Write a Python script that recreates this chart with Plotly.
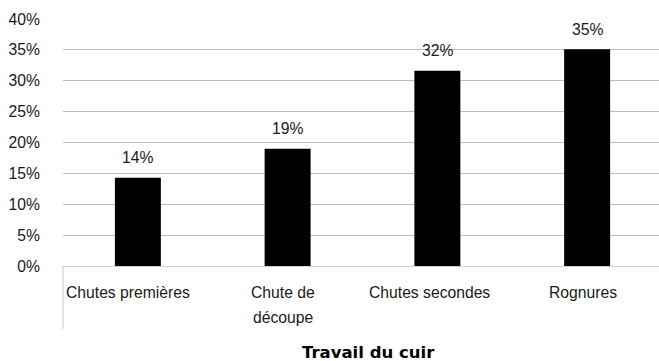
import plotly.graph_objects as go

# Share of leather-working waste by type
categories = ["Chutes premières", "Chute de découpe", "Chutes secondes", "Rognures"]
label_lines = [["Chutes premières"], ["Chute de", "découpe"], ["Chutes secondes"], ["Rognures"]]
shares = [0.143, 0.19, 0.316, 0.351]
y_ticks = [0, 0.05, 0.10, 0.15, 0.20, 0.25, 0.30, 0.35, 0.40]
axis_title = "Travail du cuir"

FONT = "Liberation Sans, Arial, sans-serif"
SIZE = 15.7
# horizontal nudge (px) of each category label relative to its bar
label_nudge = [-10, -5, -8, -4]

fig = go.Figure(
    go.Bar(
        x=categories,
        y=shares,
        width=0.307,
        marker=dict(color="#000000", line=dict(width=0)),
        hoverinfo="skip",
    )
)

annotations = []
# value labels above the bars
for cat, v in zip(categories, shares):
    annotations.append(dict(
        x=cat, y=v, xref="x", yref="y",
        text=f"{round(v * 100)}%",
        showarrow=False, yanchor="middle", yshift=20,
        font=dict(family=FONT, size=SIZE, color="#1a1a1a"),
    ))
# category labels, one annotation per line
for cat, lines, dx in zip(categories, label_lines, label_nudge):
    for i, line in enumerate(lines):
        annotations.append(dict(
            x=cat, y=0, xref="x", yref="paper",
            text=line, showarrow=False, yanchor="middle",
            xshift=dx, yshift=-(26.5 + 25 * i),
            font=dict(family=FONT, size=SIZE, color="#1a1a1a"),
        ))
# axis title
annotations.append(dict(
    x=0.512, y=0, xref="paper", yref="paper",
    text=f"<b>{axis_title}</b>", showarrow=False, yanchor="middle",
    yshift=-86,
    font=dict(family="DejaVu Sans, sans-serif", size=16.5, color="#000000"),
))

fig.update_layout(
    width=659, height=361,
    margin=dict(l=63, r=0, t=19, b=95),
    paper_bgcolor="white", plot_bgcolor="white",
    showlegend=False,
    annotations=annotations,
    shapes=[dict(
        type="line", xref="paper", yref="paper",
        x0=0, x1=0, ysizemode="pixel", yanchor=0, y0=0, y1=-63,
        line=dict(color="#c8c8c8", width=1),
    )],
    xaxis=dict(
        range=[-0.5, 3.48],
        showticklabels=False, ticks="",
        showgrid=False, zeroline=False,
        showline=True, linecolor="#d0d0d0", linewidth=1,
    ),
    yaxis=dict(
        range=[0, 0.4],
        tickvals=y_ticks, tickformat=".0%",
        showgrid=True, gridcolor="#bdbdbd", gridwidth=1,
        zeroline=False, showline=False, ticks="",
        ticklabelstandoff=22,
        tickfont=dict(family=FONT, size=SIZE, color="#1a1a1a"),
    ),
)

fig.write_html("out.html")
